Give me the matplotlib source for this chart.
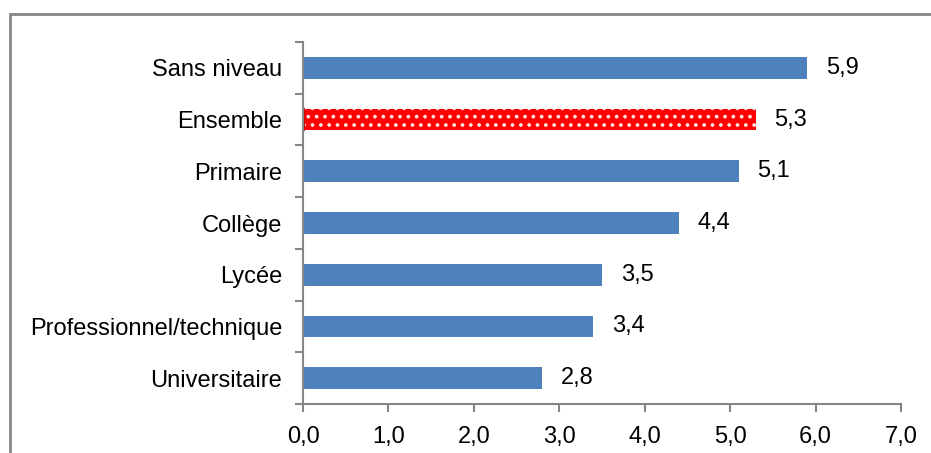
import numpy as np
import matplotlib
matplotlib.use('Agg')
from matplotlib import pyplot as plt
from matplotlib.patches import Rectangle

plt.rcParams['font.family'] = ['Liberation Sans', 'DejaVu Sans']
plt.rcParams['hatch.linewidth'] = 1.5

categories = ['Sans niveau', 'Ensemble', 'Primaire', 'Collège', 'Lycée',
              'Professionnel/technique', 'Universitaire']
values = [5.9, 5.3, 5.1, 4.4, 3.5, 3.4, 2.8]
xticks = [0, 1, 2, 3, 4, 5, 6, 7]

grey = '#868686'
blue = '#4f81bd'
fs = 17

fig = plt.figure(figsize=(9.31, 4.53), dpi=100)
# outer chart frame (cut off on right and bottom like the source)
fig.patches.append(Rectangle((10 / 931, -0.1), 2, 1.1 - 14 / 453,
                             transform=fig.transFigure, fill=False,
                             edgecolor=grey, linewidth=2))

ax = fig.add_axes([303 / 931, 1 - 404 / 453, 598 / 931, 362 / 453])
n = len(categories)
ypos = np.arange(n)[::-1]
for y, v, c in zip(ypos, values, categories):
    if c == 'Ensemble':
        ax.barh(y, v, height=0.42, color='#ff0000', hatch='..',
                edgecolor='#ffe0e0', linewidth=0)
        ax.plot([0.01, 0.01], [y - 0.21, y + 0.21], color='#d00000', lw=1.5)
    else:
        ax.barh(y, v, height=0.42, color=blue)
    ax.annotate(('%.1f' % v).replace('.', ','), (v, y), xytext=(13.5, 0),
                textcoords='offset points', va='center', ha='left', fontsize=fs)

ax.set_xlim(0, 7)
ax.set_ylim(-0.5, n - 0.5)
ax.set_xticks(xticks)
ax.set_xticklabels([('%.1f' % t).replace('.', ',') for t in xticks], fontsize=fs)
ax.set_yticks(ypos)
ax.set_yticklabels(categories, fontsize=fs)
ax.set_yticks(np.arange(-0.5, n, 1), minor=True)
ax.tick_params(axis='y', which='major', length=0, pad=15)
ax.tick_params(axis='y', which='minor', length=6, width=1.5, color=grey)
ax.tick_params(axis='x', length=6, width=1.5, color=grey, pad=10)

for s in ['top', 'right']:
    ax.spines[s].set_visible(False)
for s in ['left', 'bottom']:
    ax.spines[s].set_color(grey)
    ax.spines[s].set_linewidth(1.5)

fig.savefig('out.png', dpi=100)
